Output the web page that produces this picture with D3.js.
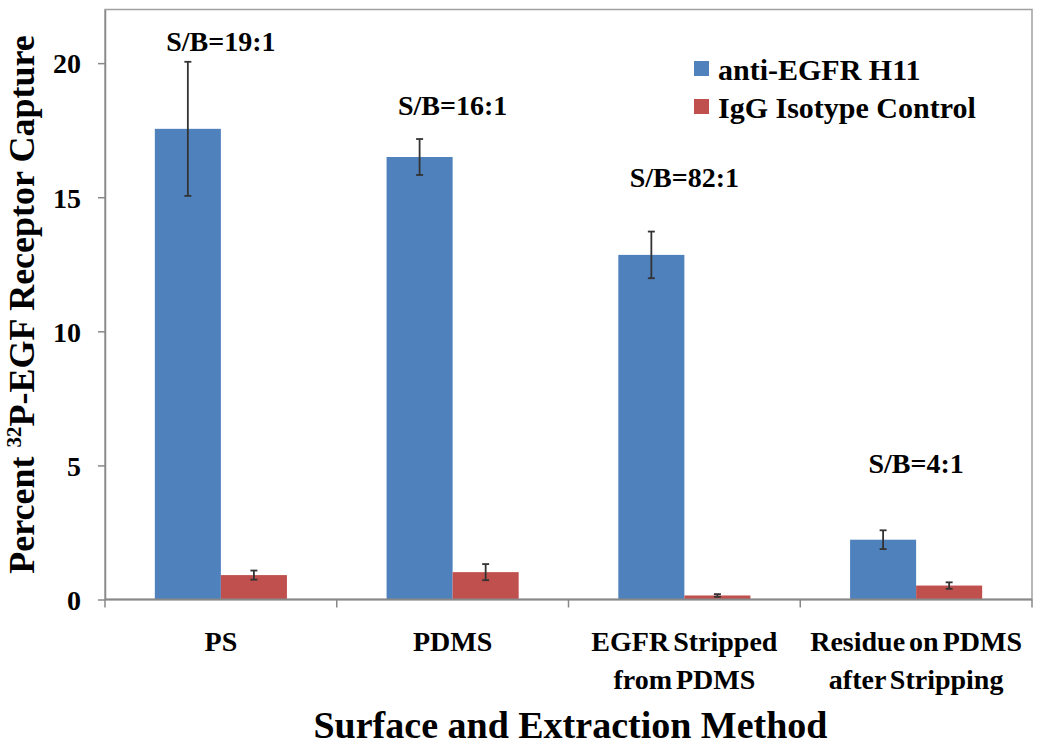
<!DOCTYPE html>
<html><head><meta charset="utf-8">
<script src="https://cdn.jsdelivr.net/npm/d3@7"></script>
<style>
body{margin:0;background:#fff;}
text{font-family:"Liberation Serif","Times New Roman",serif;font-weight:bold;fill:#000;}
</style></head>
<body><svg id="c" width="1050" height="751"></svg>
<script>
const categories = ["PS", "PDMS", "EGFR Stripped\nfrom PDMS", "Residue on PDMS\nafter Stripping"];
const seriesNames = ["anti-EGFR H11", "IgG Isotype Control"];
const antiEGFR = [17.55, 16.5, 12.85, 2.23];
const antiEGFRErr = [2.5, 0.67, 0.87, 0.35];
const igg = [0.91, 1.02, 0.15, 0.52];
const iggErr = [0.17, 0.3, 0.05, 0.12];
const sbLabels = ["S/B=19:1", "S/B=16:1", "S/B=82:1", "S/B=4:1"];
const sbLabelY = [20.45, 18.05, 15.4, 4.7];
const yTicks = [0, 5, 10, 15, 20];
const colors = ["#4F81BD", "#C0504D"];

const svg = d3.select("#c");
const L = 105, R = 1032, T = 9.5, B = 599.5;
const x = d3.scaleBand().domain(categories).range([L, R]).padding(0);
const y = d3.scaleLinear().domain([0, 22]).range([B, T]);
const bw = x.bandwidth();
const x1 = d3.scaleBand().domain(seriesNames).range([bw * 0.215, bw * 0.785]).padding(0);

// plot border
svg.append("rect").attr("x", L).attr("y", T).attr("width", R - L).attr("height", B - T)
  .attr("fill", "none").attr("stroke", "#a0a0a0").attr("stroke-width", 1.5);

const series = [
  {name: seriesNames[0], vals: antiEGFR, err: antiEGFRErr, color: colors[0]},
  {name: seriesNames[1], vals: igg, err: iggErr, color: colors[1]}
];

series.forEach(s => {
  const g = svg.append("g");
  g.selectAll("rect").data(categories).join("rect")
    .attr("x", (c) => x(c) + x1(s.name))
    .attr("y", (c, i) => y(s.vals[i]))
    .attr("width", x1.bandwidth())
    .attr("height", (c, i) => y(0) - y(s.vals[i]))
    .attr("fill", s.color);
});
series.forEach(s => {
  const g = svg.append("g").attr("stroke", "#333").attr("stroke-width", 1.8);
  categories.forEach((c, i) => {
    const cx = x(c) + x1(s.name) + x1.bandwidth() / 2;
    const y1 = y(s.vals[i] + s.err[i]), y2 = y(s.vals[i] - s.err[i]);
    g.append("line").attr("x1", cx).attr("x2", cx).attr("y1", y1).attr("y2", y2);
    g.append("line").attr("x1", cx - 3.5).attr("x2", cx + 3.5).attr("y1", y1).attr("y2", y1);
    g.append("line").attr("x1", cx - 3.5).attr("x2", cx + 3.5).attr("y1", y2).attr("y2", y2);
  });
});

// y axis
const ya = svg.append("g").attr("transform", `translate(${L},0)`)
  .call(d3.axisLeft(y).tickValues(yTicks).tickSizeInner(7).tickSizeOuter(0).tickPadding(17));
ya.select(".domain").attr("stroke", "#888").attr("stroke-width", 1.5);
ya.selectAll(".tick line").attr("stroke", "#888").attr("stroke-width", 1.5);
ya.selectAll(".tick text").style("font-size", "28px").style("font-family", "Liberation Serif").style("font-weight", "bold").attr("dy", "0.35em");

// x axis
svg.append("line").attr("x1", L).attr("x2", R).attr("y1", B).attr("y2", B).attr("stroke", "#888").attr("stroke-width", 1.8);
const bounds = categories.map(c => x(c)).concat([R]);
svg.append("g").selectAll("line").data(bounds).join("line")
  .attr("x1", d => d).attr("x2", d => d).attr("y1", B).attr("y2", B + 8)
  .attr("stroke", "#888").attr("stroke-width", 1.5);

const xl = svg.append("g");
categories.forEach(c => {
  const lines = c.split("\n");
  const t = xl.append("text").attr("text-anchor", "middle").style("font-size", "28px")
    .style("word-spacing", "-3px")
    .attr("x", x(c) + bw / 2).attr("y", 651);
  lines.forEach((ln, k) => {
    t.append("tspan").attr("x", x(c) + bw / 2).attr("dy", k === 0 ? 0 : 38).text(ln);
  });
});

// S/B labels
svg.append("g").selectAll("text").data(categories).join("text")
  .attr("text-anchor", "middle").style("font-size", "28px")
  .attr("x", c => x(c) + bw / 2)
  .attr("y", (c, i) => y(sbLabelY[i]))
  .text((c, i) => sbLabels[i]);

// legend
const lg = svg.append("g");
seriesNames.forEach((n, i) => {
  lg.append("rect").attr("x", 694).attr("y", 61 + i * 38).attr("width", 15).attr("height", 15).attr("fill", colors[i]);
  lg.append("text").attr("x", 718).attr("y", 80 + i * 38).style("font-size", "30px").text(n);
});

// axis titles
svg.append("text").attr("text-anchor", "middle").attr("x", (L + R) / 2 + 2).attr("y", 738)
  .style("font-size", "38px").text("Surface and Extraction Method");

const yt = svg.append("text").attr("text-anchor", "middle")
  .attr("transform", `translate(34,${(T + B) / 2}) rotate(-90)`).style("font-size", "36px");
yt.append("tspan").text("Percent ");
yt.append("tspan").attr("dy", -13).style("font-size", "21px").text("32");
yt.append("tspan").attr("dy", 13).text("P-EGF Receptor Capture");
</script></body></html>
